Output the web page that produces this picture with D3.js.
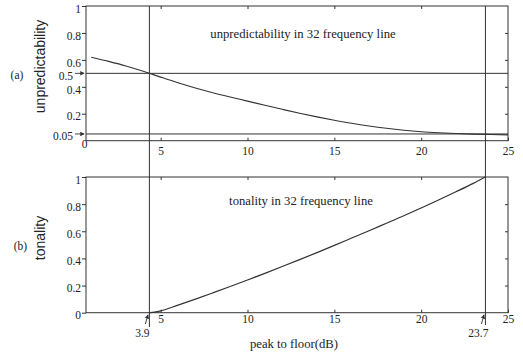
<!DOCTYPE html>
<html>
<head>
<meta charset="utf-8">
<script src="https://cdn.jsdelivr.net/npm/d3@7.9.0/dist/d3.min.js"></script>
<style>
  body { margin: 0; background: #fff; }
  svg text { fill: #222; }
  .serif { font-family: "Liberation Serif", "Times New Roman", serif; }
  .sans { font-family: "Liberation Sans", Arial, sans-serif; }
</style>
</head>
<body>
<svg id="chart" width="523" height="352"></svg>
<script>
// peak to floor (dB) vs unpredictability
const unpredX = [1, 2, 3, 4, 4.35, 5, 6, 7, 8, 9, 10, 11, 12, 13, 14, 15, 16, 17, 18, 19, 20, 21, 22, 23, 24, 25];
const unpredY = [0.62, 0.589, 0.555, 0.515, 0.5, 0.472, 0.43, 0.391, 0.356, 0.324, 0.294, 0.263, 0.233, 0.204, 0.177, 0.152, 0.129, 0.109, 0.092, 0.078, 0.067, 0.059, 0.053, 0.049, 0.046, 0.043];

// peak to floor (dB) vs tonality
const tonalX = [4.35, 5, 6, 7, 8, 9, 10, 11, 12, 13, 14, 15, 16, 17, 18, 19, 20, 21, 22, 23, 23.7];
const tonalY = [0, 0.014, 0.056, 0.1, 0.146, 0.193, 0.241, 0.29, 0.34, 0.391, 0.443, 0.496, 0.55, 0.604, 0.659, 0.714, 0.772, 0.831, 0.891, 0.953, 1.0];

// marked thresholds
const lowLine = 4.35, lowLabel = '3.9';
const highLine = 23.7, highLabel = '23.7';
const unpredMarks = [0.5, 0.05];

const xTicks = [5, 10, 15, 20, 25];
const yTicks = [0.2, 0.4, 0.6, 0.8, 1];
const yTicksB = [0, 0.2, 0.4, 0.6, 0.8, 1];

const svg = d3.select('#chart');
const ink = '#333';

const x = d3.scaleLinear().domain([0.7, 25]).range([86, 508]);
const yA = d3.scaleLinear().domain([0, 1]).range([140.7, 6]);
const yB = d3.scaleLinear().domain([0, 1]).range([312.7, 177]);

svg.append('defs').append('marker')
    .attr('id', 'head')
    .attr('viewBox', '0 0 6 6')
    .attr('refX', 5).attr('refY', 3)
    .attr('markerWidth', 5).attr('markerHeight', 5)
    .attr('orient', 'auto')
    .append('path').attr('d', 'M0,0 L6,3 L0,6 z').attr('fill', ink);

function styleAxis(g) {
    g.select('.domain').remove();
    g.selectAll('line').attr('stroke', ink);
    g.selectAll('text').attr('class', 'serif').style('font-size', '11.5px').attr('fill', '#222');
}

function drawPanel(y, ticks, labelPad) {
    const p = svg.append('g');
    p.append('g')
        .attr('transform', `translate(${x.range()[0]},0)`)
        .call(d3.axisLeft(y).tickValues(ticks).tickSize(4).tickPadding(1).tickFormat(d3.format('')))
        .call(styleAxis)
        .call(g => g.selectAll('text').attr('transform', 'translate(0,2.5)'));
    p.append('g')
        .attr('transform', `translate(${x.range()[1]},0)`)
        .call(d3.axisRight(y).tickValues([0.2, 0.4, 0.6, 0.8]).tickSize(-3).tickFormat(''))
        .call(styleAxis);
    p.append('g')
        .attr('transform', `translate(0,${y.range()[1]})`)
        .call(d3.axisTop(x).tickValues([5, 10, 15, 20]).tickSize(-3).tickFormat(''))
        .call(styleAxis);
    p.append('g')
        .attr('transform', `translate(0,${y.range()[0]})`)
        .call(d3.axisBottom(x).tickValues(xTicks).tickSizeInner(-3).tickSizeOuter(0).tickPadding(labelPad))
        .call(styleAxis);
    p.append('rect')
        .attr('x', x.range()[0]).attr('y', y.range()[1])
        .attr('width', x.range()[1] - x.range()[0])
        .attr('height', y.range()[0] - y.range()[1])
        .attr('fill', 'none').attr('stroke', ink).attr('stroke-width', 1);
    return p;
}

const pa = drawPanel(yA, yTicks, 6);
const pb = drawPanel(yB, yTicksB, 2);

// stray "0" at the corner of the top panel
svg.append('text').attr('class', 'serif')
    .attr('x', x(0.7) - 1.5).attr('y', yA(0) + 7)
    .attr('text-anchor', 'middle').style('font-size', '11.5px')
    .text('0');

// horizontal thresholds in panel (a) with arrows
unpredMarks.forEach((v) => {
    svg.append('line')
        .attr('x1', x.range()[0]).attr('x2', x.range()[1])
        .attr('y1', yA(v)).attr('y2', yA(v))
        .attr('stroke', ink).attr('stroke-width', 1);
    svg.append('line')
        .attr('x1', x.range()[0] - 11).attr('x2', x.range()[0] - 2)
        .attr('y1', yA(v)).attr('y2', yA(v))
        .attr('stroke', ink).attr('stroke-width', 0.9)
        .attr('marker-end', 'url(#head)');
    svg.append('text').attr('class', 'serif')
        .attr('x', x.range()[0] - 13).attr('y', yA(v) + 6.5)
        .attr('text-anchor', 'end').style('font-size', '11.5px')
        .text(String(v));
});

// vertical thresholds through both panels
[[lowLine, lowLabel, 327], [highLine, highLabel, 325]].forEach(([v, lab, bottom]) => {
    svg.append('line')
        .attr('x1', x(v)).attr('x2', x(v))
        .attr('y1', yA(1)).attr('y2', bottom)
        .attr('stroke', ink).attr('stroke-width', 1);
    svg.append('line')
        .attr('x1', x(v) - 4).attr('x2', x(v) - 1.5)
        .attr('y1', 324).attr('y2', 315)
        .attr('stroke', ink).attr('stroke-width', 0.9)
        .attr('marker-end', 'url(#head)');
    svg.append('text').attr('class', 'serif')
        .attr('x', x(v) - 7).attr('y', 336.5)
        .attr('text-anchor', 'middle').style('font-size', '11.5px')
        .text(lab);
});

// curves
const lineA = d3.line().x((d) => x(d[0])).y((d) => yA(d[1])).curve(d3.curveMonotoneX);
const lineB = d3.line().x((d) => x(d[0])).y((d) => yB(d[1])).curve(d3.curveMonotoneX);

svg.append('path')
    .datum(d3.zip(unpredX, unpredY))
    .attr('d', lineA)
    .attr('fill', 'none').attr('stroke', ink).attr('stroke-width', 1.1);

svg.append('path')
    .datum(d3.zip(tonalX, tonalY))
    .attr('d', lineB)
    .attr('fill', 'none').attr('stroke', ink).attr('stroke-width', 1.2);

// titles inside panels
svg.append('text').attr('class', 'serif')
    .attr('x', 303).attr('y', 37.5).attr('text-anchor', 'middle')
    .style('font-size', '12.7px')
    .text('unpredictability in 32 frequency line');
svg.append('text').attr('class', 'serif')
    .attr('x', 301).attr('y', 204.5).attr('text-anchor', 'middle')
    .style('font-size', '12.7px')
    .text('tonality in 32 frequency line');

// axis titles
svg.append('text').attr('class', 'sans')
    .attr('transform', 'translate(45,66.5) rotate(-90)')
    .attr('text-anchor', 'middle').style('font-size', '14px')
    .text('unpredictability');
svg.append('text').attr('class', 'sans')
    .attr('transform', 'translate(45,238) rotate(-90)')
    .attr('text-anchor', 'middle').style('font-size', '14px')
    .text('tonality');
svg.append('text').attr('class', 'serif')
    .attr('x', 294).attr('y', 347.5).attr('text-anchor', 'middle')
    .style('font-size', '12.7px')
    .text('peak to floor(dB)');

// panel tags
svg.append('text').attr('class', 'serif')
    .attr('x', 17).attr('y', 79).attr('text-anchor', 'middle')
    .style('font-size', '11.5px').text('(a)');
svg.append('text').attr('class', 'serif')
    .attr('x', 20.5).attr('y', 250).attr('text-anchor', 'middle')
    .style('font-size', '11.5px').text('(b)');
</script>
</body>
</html>
